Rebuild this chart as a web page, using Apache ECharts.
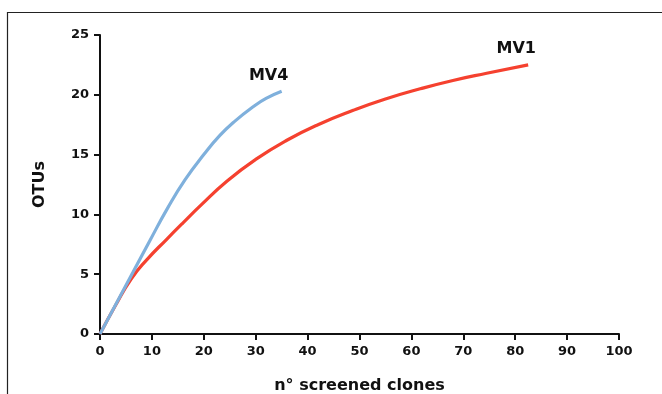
<!DOCTYPE html>
<html>
<head>
<meta charset="utf-8">
<script src="https://cdn.jsdelivr.net/npm/echarts@6/dist/echarts.min.js"></script>
<style>html,body{margin:0;padding:0;background:#fff}#c{width:662px;height:394px}</style>
</head>
<body>
<div id="c"></div>
<script>
var mv1X = [0, 3, 6, 9, 12.8, 16, 19.5, 24.5, 30, 36, 42, 48.8, 55, 61.7, 68, 74.5, 82.5];
var mv1Y = [0, 2.4, 4.6, 6.2, 7.9, 9.3, 10.8, 12.8, 14.6, 16.2, 17.5, 18.7, 19.65, 20.5, 21.2, 21.8, 22.5];
var mv4X = [0, 6.4, 9.6, 13, 16.4, 20, 23.1, 26, 29.5, 32, 35];
var mv4Y = [0, 5.2, 7.8, 10.5, 12.9, 15.0, 16.6, 17.8, 19.0, 19.7, 20.3];
var xTicks = [0, 10, 20, 30, 40, 50, 60, 70, 80, 90, 100];
var yTicks = [0, 5, 10, 15, 20, 25];
var seriesNames = ['MV1', 'MV4'];

function pairs(xs, ys) { return xs.map(function (x, i) { return [x, ys[i]]; }); }

var FONT = 'DejaVu Sans';
var chart = echarts.init(document.getElementById('c'), null, {renderer: 'canvas'});
chart.setOption({
  animation: false,
  backgroundColor: '#ffffff',
  graphic: [{
    type: 'rect', silent: true,
    shape: {x: 7.5, y: 12.5, width: 720, height: 420},
    style: {fill: 'none', stroke: '#222', lineWidth: 1.2}
  }],
  grid: {left: 100, right: 43, top: 35, bottom: 60, outerBoundsMode: 'none', containLabel: false},
  xAxis: {
    type: 'value', min: xTicks[0], max: xTicks[xTicks.length - 1], interval: 10,
    name: 'n° screened clones', nameLocation: 'middle', nameGap: 44,
    nameTextStyle: {fontFamily: FONT, fontWeight: 'bold', fontSize: 16, color: '#111'},
    axisLine: {lineStyle: {color: '#111', width: 2}},
    axisTick: {length: 6, lineStyle: {color: '#111', width: 2}},
    axisLabel: {fontFamily: FONT, fontWeight: 'bold', fontSize: 13, color: '#111', margin: 11},
    splitLine: {show: false}
  },
  yAxis: {
    type: 'value', min: yTicks[0], max: yTicks[yTicks.length - 1], interval: 5,
    name: 'OTUs', nameLocation: 'middle', nameGap: 52, nameRotate: 90,
    nameTextStyle: {fontFamily: FONT, fontWeight: 'bold', fontSize: 16, color: '#111'},
    axisLine: {lineStyle: {color: '#111', width: 2}},
    axisTick: {length: 6, lineStyle: {color: '#111', width: 2}},
    axisLabel: {fontFamily: FONT, fontWeight: 'bold', fontSize: 13, color: '#111', margin: 11},
    splitLine: {show: false}
  },
  series: [{
    name: seriesNames[0], type: 'line', smooth: 0.5, showSymbol: false,
    data: pairs(mv1X, mv1Y),
    lineStyle: {color: '#f5412f', width: 3.2},
    endLabel: {show: true, formatter: '{a}', position: 'top', align: 'center', offset: [-20, -16],
      fontFamily: FONT, fontWeight: 'bold', fontSize: 16, color: '#111'}
  }, {
    name: seriesNames[1], type: 'line', smooth: 0.5, showSymbol: false,
    data: pairs(mv4X, mv4Y),
    lineStyle: {color: '#7fb0dc', width: 3.2},
    endLabel: {show: true, formatter: '{a}', position: 'top', align: 'center', offset: [-21, -15],
      fontFamily: FONT, fontWeight: 'bold', fontSize: 16, color: '#111'}
  }]
});
</script>
</body>
</html>
